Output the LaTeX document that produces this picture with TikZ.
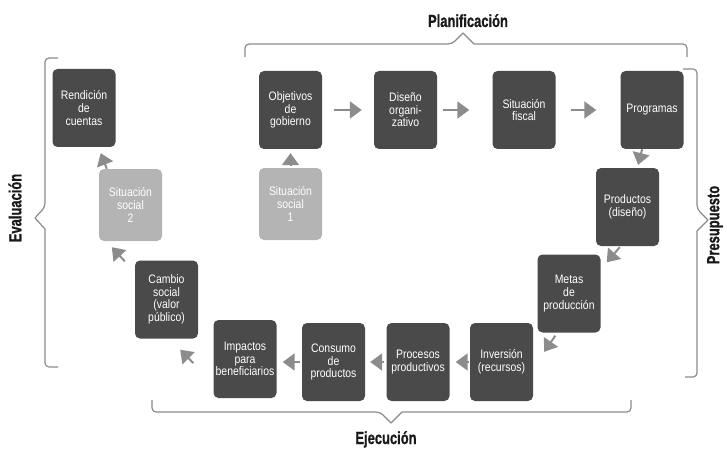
\documentclass[tikz,border=0pt]{standalone}
\usepackage{fontspec}
\setmainfont[FakeStretch=0.85]{Liberation Sans}
\newfontfamily\phasefont[FakeStretch=0.74, BoldFeatures={FakeBold=1}]{Liberation Sans}
\usepackage{tikz}
\usetikzlibrary{arrows.meta, positioning, calc}
\definecolor{boxdark}{HTML}{4A4A4A}
\definecolor{boxlight}{HTML}{B4B4B4}
\definecolor{arrgray}{HTML}{8C8C8C}
\definecolor{brgray}{HTML}{8A8A8A}
\newcommand{\stagefont}{\fontsize{12.3}{12.6}\selectfont}

\begin{document}
\begin{tikzpicture}[x=1pt, y=-1pt, line join=round,
    stage/.style={fill=boxdark, rounded corners=5pt, minimum width=63pt,
        minimum height=78pt, inner sep=1pt, align=center, text=white,
        font=\stagefont},
    social/.style={stage, fill=boxlight, minimum height=72pt},
    flow/.style={draw=arrgray, line width=2pt,
        -{Triangle[width=17pt, length=12pt]}},
    brace/.style={draw=brgray, line width=1.2pt},
    phase/.style={font=\phasefont\fontsize{17.5}{18}\selectfont\bfseries,
        text=black!90}]
        \useasboundingbox (0,0) rectangle (727,449);
        % planificacion
        \node[stage] (obj)  at (290.5,110) {Objetivos\\de\\gobierno};
        \node[stage] (dis)  at (405.5,110) {Diseño\\organi-\\zativo};
        \node[stage] (fis)  at (524,110)   {Situación\\fiscal};
        \node[stage] (prog) at (652,110)   {Programas};
        \node[social] (sit1) at (290.5,204) {Situación\\social\\1};
        % presupuesto
        \node[stage] (prod) at (627.5,207) {Productos\\(diseño)};
        \node[stage] (meta) at (569,293.5) {Metas\\de\\producción};
        % ejecucion
        \node[stage] (inv)  at (501.5,362) {Inversión\\(recursos)};
        \node[stage] (proc) at (418,362)   {Procesos\\productivos};
        \node[stage] (cons) at (333.5,362) {Consumo\\de\\productos};
        \node[stage] (imp)  at (245,359)   {Impactos\\para\\beneficiarios};
        % evaluacion
        \node[stage] (camb) at (166.5,299.5) {Cambio\\social\\(valor\\público)};
        \node[social] (sit2) at (130.5,205)  {Situación\\social\\2};
        \node[stage] (rend) at (84,108)      {Rendición\\de\\cuentas};

        % flechas
        \draw[flow, shorten <=12pt, shorten >=12pt] (obj) -- (dis);
        \draw[flow, shorten <=6pt, shorten >=23pt] (dis) -- (fis);
        \draw[flow, shorten <=15pt, shorten >=24pt] (fis) -- (prog);
        \draw[flow, shorten <=2pt, shorten >=4pt] (sit1) -- (obj);
        \draw[flow, shorten >=3pt] (prog) -- (prod);
        \draw[flow] ([shift={(24pt,-1pt)}]prod.south west)
            -- ([shift={(6pt,-8pt)}]meta.north east);
        \draw[flow] ([shift={(18pt,-3pt)}]meta.south west)
            -- ([shift={(11pt,-29pt)}]inv.north east);
        \draw[flow, shorten <=1pt, shorten >=6pt] (inv.west) -- (inv.west -| proc.east);
        \draw[flow, shorten <=2pt, shorten >=5pt] (proc.west) -- (proc.west -| cons.east);
        \draw[flow, shorten <=2pt, shorten >=6pt] (cons.west) -- (cons.west -| imp.east);
        \draw[flow] ([shift={(-20pt,-4pt)}]imp.west)
            -- ([shift={(-18pt,-11pt)}]camb.south east);
        \draw[flow] ([shift={(-10pt,-1pt)}]camb.north west)
            -- ([shift={(13pt,-6pt)}]sit2.south west);
        \draw[flow] ([shift={(8pt,0pt)}]sit2.north west)
            -- ([shift={(-15pt,-6pt)}]rend.south east);

        % llaves
        \draw[brace, rounded corners=4pt] (245,57) |- (452,44)
            [sharp corners] -- (463,33) -- (474,44)
            [rounded corners=4pt] -| (687,57);
        \draw[brace, rounded corners=4pt] (683,69) -| (697,209)
            [sharp corners] -- (708,220) -- (697,231)
            [rounded corners=4pt] |- (685,377);
        \draw[brace, rounded corners=4pt] (58,58) -| (45,207)
            [sharp corners] -- (35,218) -- (45,229)
            [rounded corners=4pt] |- (58,367);
        \draw[brace, rounded corners=4pt] (152,400) |- (380,412)
            [sharp corners] -- (391,423) -- (402,412)
            [rounded corners=4pt] -| (631,400);

        \node[phase, anchor=base] (plan) at (468,27) {Planificación};
        \node[phase, anchor=base] (ejec) at (386,444) {Ejecución};
        \node[phase, rotate=90] (eval) at (15,208) {Evaluación};
        \node[phase, rotate=90] (pres) at (715,225) {Presupuesto};
\end{tikzpicture}
\end{document}
